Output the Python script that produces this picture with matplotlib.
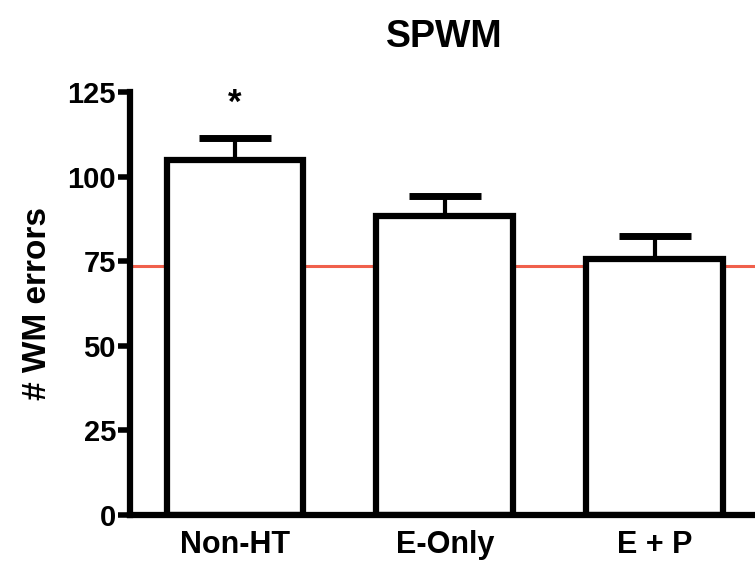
import matplotlib
matplotlib.use("Agg")
import matplotlib.pyplot as plt
import numpy as np

categories = ["Non-HT", "E-Only", "E + P"]
means = [105, 88.3, 75.5]
sem = [6.5, 6.0, 6.8]
reference_line = 73.6
y_ticks = [0, 25, 50, 75, 100, 125]

plt.rcParams['font.family'] = ['Liberation Sans', 'DejaVu Sans']
plt.rcParams['font.weight'] = 'bold'

fig = plt.figure(figsize=(7.55, 5.64), dpi=100)
ax = fig.add_axes([0.172, 0.087, 0.834, 0.75])

x = np.arange(len(categories))
ax.axhline(reference_line, color='#f0604c', lw=2.2, zorder=1)
ax.bar(x, means, width=0.65, color='white', edgecolor='black', linewidth=4.5, zorder=2)
ax.errorbar(x, means, yerr=[[0]*len(sem), sem], fmt='none', ecolor='black',
            elinewidth=3.0, capsize=26, capthick=5, zorder=1.5)
ax.text(0, 121.5, '*', ha='center', va='center', fontsize=25, fontweight='bold')

ax.set_xlim(-0.5, 2.5)
ax.set_ylim(0, 125)
ax.set_yticks(y_ticks)
ax.set_xticks(x)
ax.set_xticklabels(categories, fontsize=22, fontweight='bold')
ax.tick_params(axis='x', length=0, pad=11)
ax.tick_params(axis='y', length=9, width=4, labelsize=21, pad=1)
for lbl in ax.get_yticklabels():
    lbl.set_fontweight('bold')
ax.spines['top'].set_visible(False)
ax.spines['right'].set_visible(False)
ax.spines['left'].set_linewidth(4.5)
ax.spines['bottom'].set_linewidth(4.5)
ax.set_ylabel('# WM errors', fontsize=24, fontweight='bold', labelpad=10)
ax.set_title('SPWM', fontsize=27, fontweight='bold', pad=32)

fig.savefig('out.png', dpi=100)
